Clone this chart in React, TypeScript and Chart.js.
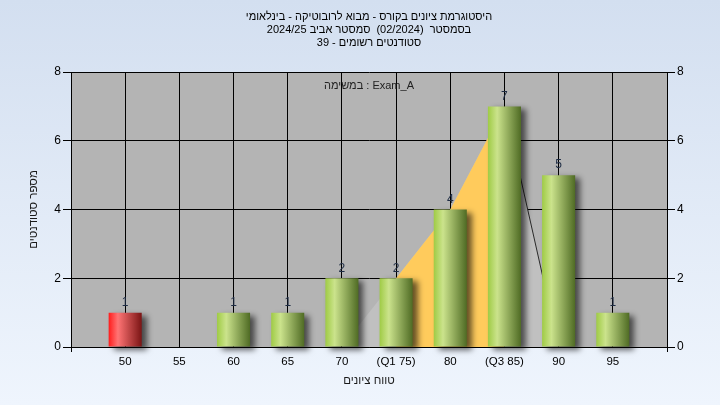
import React, { useEffect, useRef } from 'react';
import { Chart, registerables } from 'chart.js';
Chart.register(...registerables);

const titleLines = [
  'היסטוגרמת ציונים בקורס - מבוא לרובוטיקה - בינלאומי',
  'בסמסטר  (02/2024)  סמסטר אביב 2024/25',
  'סטודנטים רשומים - 39',
];
const taskLabel = 'במשימה : Exam_A';
const xAxisTitle = 'טווח ציונים';
const yAxisTitle = 'מספר סטודנטים';
const binLabels = ['50', '55', '60', '65', '70', '(Q1 75)', '80', '(Q3 85)', '90', '95'];
const binScores = [50, 55, 60, 65, 70, 75, 80, 85, 90, 95];
const studentCounts = [1, 0, 1, 1, 2, 2, 4, 7, 5, 1];
const distributionCurve = [null, null, null, null, 0, 2, 4, 7, 0, null];
const quartileCurve = [null, null, null, null, null, 2, 4, 7, null, null];
const yMax = 8;
const passScore = 55;

const FONT = 'Liberation Sans, DejaVu Sans, Arial, sans-serif';
const pad = (arr: any[]) => [null, ...arr, null];
const labels = ['', ...binLabels, ''];
const BAR_PCT = 0.61;

export default function App() {
  const ref = useRef<HTMLCanvasElement>(null);
  useEffect(() => {
    if (!ref.current) return;
    Chart.defaults.font.family = FONT;

    const bgPlugin = {
      id: 'bgPlugin',
      beforeDraw(chart: any) {
        const { ctx, width, height, chartArea } = chart;
        ctx.save();
        const g = ctx.createLinearGradient(0, 0, 0, height);
        g.addColorStop(0, '#d3dff0');
        g.addColorStop(1, '#eff5fd');
        ctx.fillStyle = g;
        ctx.fillRect(0, 0, width, height);
        ctx.fillStyle = '#b4b4b4';
        ctx.fillRect(chartArea.left, chartArea.top, chartArea.right - chartArea.left, chartArea.bottom - chartArea.top);
        ctx.fillStyle = '#000';
        ctx.font = `11px ${FONT}`;
        ctx.textAlign = 'center';
        ctx.textBaseline = 'middle';
        (ctx as any).direction = 'rtl';
        titleLines.forEach((t, i) => ctx.fillText(t, (chartArea.left + chartArea.right) / 2, 17 + i * 13));
        ctx.restore();
      },
    };

    const shadowPlugin = {
      id: 'shadowPlugin',
      beforeDatasetDraw(chart: any, args: any) {
        if (args.meta.type !== 'bar') return;
        const ctx = chart.ctx;
        ctx.save();
        ctx.shadowColor = 'rgba(0,0,0,0.6)';
        ctx.shadowBlur = 6;
        ctx.shadowOffsetX = 5;
        ctx.shadowOffsetY = 3;
      },
      afterDatasetDraw(chart: any, args: any) {
        if (args.meta.type !== 'bar') return;
        chart.ctx.restore();
      },
    };

    const labelPlugin = {
      id: 'labelPlugin',
      afterDatasetsDraw(chart: any) {
        const ctx = chart.ctx;
        const meta = chart.getDatasetMeta(0);
        const data = chart.data.datasets[0].data;
        ctx.save();
        ctx.font = `12px ${FONT}`;
        ctx.fillStyle = '#1e2c44';
        ctx.textAlign = 'center';
        ctx.textBaseline = 'bottom';
        meta.data.forEach((el: any, i: number) => {
          const v = data[i];
          if (v == null || v === 0) return;
          ctx.fillText(String(v), el.x, el.y - 4);
        });
        const { chartArea } = chart;
        ctx.font = `11px ${FONT}`;
        ctx.fillStyle = '#222';
        ctx.textBaseline = 'middle';
        (ctx as any).direction = 'ltr';
        ctx.fillText(taskLabel, (chartArea.left + chartArea.right) / 2, chartArea.top + 14);
        ctx.restore();
      },
    };

    const barColor = (c: any) => {
      const chart = c.chart;
      const xs = chart.scales?.x;
      if (!xs || c.dataIndex == null || !chart.chartArea) return '#9bc34a';
      const cx = xs.getPixelForValue(c.dataIndex);
      const w = (xs.width / (labels.length - 1)) * BAR_PCT;
      const g = chart.ctx.createLinearGradient(cx - w / 2, 0, cx + w / 2, 0);
      const score = binScores[c.dataIndex - 1];
      if (score < passScore) {
        g.addColorStop(0, '#ff1c1c');
        g.addColorStop(0.28, '#ff7474');
        g.addColorStop(1, '#7a1414');
      } else {
        g.addColorStop(0, '#9fcb45');
        g.addColorStop(0.28, '#cbe38c');
        g.addColorStop(1, '#4f6b24');
      }
      return g;
    };

    const chart = new Chart(ref.current, {
      type: 'bar',
      data: {
        labels,
        datasets: [
          {
            type: 'bar',
            data: pad(studentCounts),
            backgroundColor: barColor,
            borderWidth: 0,
            barPercentage: BAR_PCT,
            categoryPercentage: 1,
            order: 0,
            clip: false as any,
          },
          {
            type: 'line',
            data: pad(quartileCurve),
            backgroundColor: '#ffcb5c',
            borderWidth: 0,
            borderColor: 'rgba(0,0,0,0)',
            pointRadius: 0,
            fill: 'origin',
            tension: 0,
            order: 1,
          },
          {
            type: 'line',
            data: pad(distributionCurve),
            backgroundColor: '#c0c0c0',
            borderWidth: 1,
            borderColor: 'rgba(0,0,0,0)',
            segment: {
              borderColor: (s: any) => (s.p0.parsed.y > s.p1.parsed.y ? '#2a2a2a' : 'rgba(0,0,0,0)'),
            },
            pointRadius: 0,
            fill: 'origin',
            tension: 0,
            order: 2,
          },
        ] as any,
      },
      options: {
        responsive: false,
        animation: false,
        devicePixelRatio: 1,
        layout: { padding: { top: 72, left: 0, right: 0, bottom: 0 } },
        plugins: { legend: { display: false }, tooltip: { enabled: false }, title: { display: false } },
        scales: {
          x: {
            offset: false,
            grid: {
              offset: false,
              color: '#000',
              lineWidth: 1,
              tickLength: 5,
              tickColor: (c: any) => (c.index === 0 || c.index === labels.length - 1 ? '#000' : 'rgba(0,0,0,0)'),
            },
            border: { color: '#000', width: 1 },
            ticks: { color: '#000', font: { size: 11.5 }, padding: 3, maxRotation: 0, autoSkip: false },
            title: { display: true, text: xAxisTitle, color: '#1a1a1a', font: { size: 11.5 }, padding: { top: 0, bottom: 17 } },
            afterFit: (s: any) => { s.height = 58; },
          },
          y: {
            position: 'left',
            min: 0,
            max: yMax,
            grid: { color: '#000', lineWidth: 1, tickLength: 8 },
            border: { color: '#000', width: 1 },
            ticks: { stepSize: 2, color: '#000', font: { size: 12 }, padding: 2 },
            title: { display: true, text: yAxisTitle, color: '#1a1a1a', font: { size: 11.5 }, padding: { top: 27, bottom: 0 } },
            afterFit: (s: any) => { s.width = 71; },
          },
          y2: {
            position: 'right',
            min: 0,
            max: yMax,
            grid: { drawOnChartArea: false, color: '#000', tickLength: 8 },
            border: { color: '#000', width: 1 },
            ticks: { stepSize: 2, color: '#000', font: { size: 12 }, padding: 2 },
            afterFit: (s: any) => { s.width = 53; },
          },
        },
      } as any,
      plugins: [bgPlugin, shadowPlugin, labelPlugin],
    });
    return () => chart.destroy();
  }, []);

  return (
    <div style={{ position: 'absolute', left: 0, top: 0, width: 720, height: 405 }}>
      <canvas ref={ref} width={720} height={405} />
    </div>
  );
}
